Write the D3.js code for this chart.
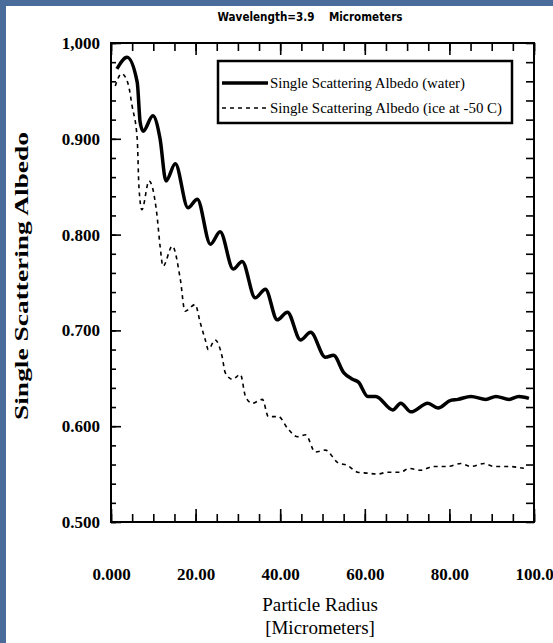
<!DOCTYPE html>
<html>
<head>
<meta charset="utf-8">
<script src="https://cdn.jsdelivr.net/npm/d3@7"></script>
<style>
  body { margin: 0; background: #4a6c9b; }
  svg { display: block; }
  .tick text { font-family: "Liberation Serif", serif; font-weight: bold; font-size: 17px; fill: #000; }
  .tick line { stroke: #000; stroke-width: 1.6; }
</style>
</head>
<body>
<div id="chart"></div>
<script>
// Particle radius (micrometers) vs single scattering albedo
var waterRadius = [1.4, 3.8, 6.2, 6.9, 7.6, 9.9, 11.6, 13.0, 15.2, 18.2, 20.4, 23.5, 25.8, 28.9, 31.0, 34.1, 36.5, 39.3, 41.7, 44.8, 47.2, 50.7, 52.6, 55.0, 57.1, 58.5, 60.7, 62.6, 66.6, 68.5, 70.9, 74.9, 77.3, 80.3, 82.0, 85.1, 88.6, 91.0, 94.1, 96.4, 98.8];
var waterAlbedo = [0.973, 0.985, 0.959, 0.917, 0.908, 0.924, 0.900, 0.856, 0.874, 0.828, 0.837, 0.790, 0.803, 0.764, 0.772, 0.734, 0.743, 0.711, 0.719, 0.690, 0.698, 0.672, 0.674, 0.656, 0.649, 0.646, 0.631, 0.631, 0.617, 0.624, 0.615, 0.624, 0.619, 0.627, 0.628, 0.631, 0.628, 0.631, 0.628, 0.631, 0.629];

var iceRadius = [1.0, 2.5, 4.0, 5.0, 6.2, 6.6, 7.3, 9.0, 10.9, 11.6, 12.3, 14.5, 16.4, 17.5, 19.9, 21.1, 22.3, 23.0, 24.6, 26.3, 27.0, 28.7, 30.6, 31.8, 33.4, 35.8, 37.2, 39.6, 41.7, 44.1, 46.0, 48.3, 50.7, 53.6, 55.9, 58.3, 60.7, 63.0, 65.4, 68.5, 70.4, 73.2, 76.3, 79.6, 82.7, 85.1, 88.2, 90.5, 93.8, 97.6];
var iceAlbedo = [0.955, 0.968, 0.958, 0.934, 0.900, 0.850, 0.826, 0.856, 0.819, 0.788, 0.767, 0.788, 0.753, 0.720, 0.727, 0.708, 0.690, 0.680, 0.690, 0.672, 0.656, 0.649, 0.654, 0.631, 0.624, 0.628, 0.610, 0.610, 0.598, 0.589, 0.591, 0.573, 0.575, 0.562, 0.559, 0.552, 0.551, 0.550, 0.552, 0.552, 0.556, 0.554, 0.558, 0.558, 0.561, 0.558, 0.561, 0.558, 0.558, 0.556];

var xTickValues = [0, 20, 40, 60, 80, 100];
var xTickLabels = ["0.000", "20.00", "40.00", "60.00", "80.00", "100.0"];
var yTickValues = [0.5, 0.6, 0.7, 0.8, 0.9, 1.0];
var yTickLabels = ["0.500", "0.600", "0.700", "0.800", "0.900", "1,000"];
var legendLabels = ["Single Scattering Albedo (water)", "Single Scattering Albedo (ice at -50 C)"];

// SVG dimensions
var svgWidth = 553;
var svgHeight = 643;

var margin = { top: 43, right: 19, bottom: 121, left: 111 };
var width = svgWidth - margin.left - margin.right;
var height = svgHeight - margin.top - margin.bottom;

var svg = d3.select("#chart")
  .append("svg")
  .attr("width", svgWidth)
  .attr("height", svgHeight);

// blue slide border + white page
svg.append("rect")
  .attr("width", svgWidth)
  .attr("height", svgHeight)
  .attr("fill", "#4a6c9b");
svg.append("rect")
  .attr("x", 6)
  .attr("y", 6)
  .attr("width", svgWidth - 6)
  .attr("height", svgHeight - 6)
  .attr("fill", "#fff");

var chartGroup = svg.append("g")
  .attr("transform", `translate(${margin.left}, ${margin.top})`);

var xScale = d3.scaleLinear().domain([0, 100]).range([0, width]);
var yScale = d3.scaleLinear().domain([0.5, 1.0]).range([height, 0]);

var xMinor = d3.range(0, 101, 5);
var yMinor = d3.range(0, 26).map(i => 0.5 + i * 0.02);

// Minor ticks (no labels)
chartGroup.append("g")
  .attr("transform", `translate(0, ${height})`)
  .call(d3.axisBottom(xScale).tickValues(xMinor).tickSize(-8).tickFormat(""));
chartGroup.append("g")
  .call(d3.axisTop(xScale).tickValues(xMinor).tickSize(-8).tickFormat(""));
chartGroup.append("g")
  .call(d3.axisLeft(yScale).tickValues(yMinor).tickSize(-5).tickFormat(""));
chartGroup.append("g")
  .attr("transform", `translate(${width}, 0)`)
  .call(d3.axisRight(yScale).tickValues(yMinor).tickSize(-8).tickFormat(""));

// Major ticks with labels
chartGroup.append("g")
  .attr("transform", `translate(0, ${height})`)
  .call(d3.axisBottom(xScale).tickValues(xTickValues).tickSize(-13).tickPadding(46)
    .tickFormat((d, i) => xTickLabels[i]));
chartGroup.append("g")
  .call(d3.axisTop(xScale).tickValues(xTickValues).tickSize(-12).tickFormat(""));
chartGroup.append("g")
  .call(d3.axisLeft(yScale).tickValues(yTickValues).tickSize(-10).tickPadding(11)
    .tickFormat((d, i) => yTickLabels[i]));

chartGroup.selectAll(".domain").remove();

// Frame
chartGroup.append("rect")
  .attr("width", width)
  .attr("height", height)
  .attr("fill", "none")
  .attr("stroke", "#000")
  .attr("stroke-width", 2);

// Curves
var line = d3.line()
  .x(d => xScale(d[0]))
  .y(d => yScale(d[1]))
  .curve(d3.curveMonotoneX);

var waterData = waterRadius.map((r, i) => [r, waterAlbedo[i]]);
var iceData = iceRadius.map((r, i) => [r, iceAlbedo[i]]);

chartGroup.append("path")
  .datum(iceData)
  .attr("d", line)
  .attr("fill", "none")
  .attr("stroke", "#000")
  .attr("stroke-width", 1.6)
  .attr("stroke-dasharray", "4,4");

chartGroup.append("path")
  .datum(waterData)
  .attr("d", line)
  .attr("fill", "none")
  .attr("stroke", "#000")
  .attr("stroke-width", 3.5)
  .attr("stroke-linejoin", "round");

// Legend
var legend = svg.append("g");
legend.append("rect")
  .attr("x", 218)
  .attr("y", 61)
  .attr("width", 294)
  .attr("height", 62)
  .attr("fill", "#fff")
  .attr("stroke", "#000")
  .attr("stroke-width", 2.5);

var legendY = [83, 108];
var legendWidths = [195, 232];
legendLabels.forEach(function(label, i) {
  legend.append("line")
    .attr("x1", 222)
    .attr("x2", 268)
    .attr("y1", legendY[i])
    .attr("y2", legendY[i])
    .attr("stroke", "#000")
    .attr("stroke-width", i === 0 ? 3.5 : 1.6)
    .attr("stroke-dasharray", i === 0 ? null : "4,4");
  legend.append("text")
    .attr("x", 270)
    .attr("y", legendY[i] + 5)
    .attr("textLength", legendWidths[i])
    .attr("lengthAdjust", "spacingAndGlyphs")
    .attr("font-family", "Liberation Serif, serif")
    .attr("font-size", "15px")
    .text(label);
});

// Title
svg.append("text")
  .attr("x", 310)
  .attr("y", 21)
  .attr("text-anchor", "middle")
  .attr("textLength", 185)
  .attr("lengthAdjust", "spacingAndGlyphs")
  .attr("font-family", "DejaVu Sans, sans-serif")
  .attr("font-weight", "bold")
  .attr("font-size", "13px")
  .attr("xml:space", "preserve")
  .text("Wavelength=3.9    Micrometers");

// Y Axis Label
svg.append("text")
  .attr("transform", "translate(28, 276) rotate(-90)")
  .attr("text-anchor", "middle")
  .attr("textLength", 288)
  .attr("lengthAdjust", "spacingAndGlyphs")
  .attr("font-family", "Liberation Serif, serif")
  .attr("font-weight", "bold")
  .attr("font-size", "18px")
  .text("Single Scattering Albedo");

// X Axis Label
svg.append("text")
  .attr("x", 320)
  .attr("y", 611)
  .attr("text-anchor", "middle")
  .attr("font-family", "Liberation Serif, serif")
  .attr("font-size", "19px")
  .text("Particle Radius");
svg.append("text")
  .attr("x", 320)
  .attr("y", 634)
  .attr("text-anchor", "middle")
  .attr("font-family", "Liberation Serif, serif")
  .attr("font-size", "19px")
  .text("[Micrometers]");
</script>
</body>
</html>
